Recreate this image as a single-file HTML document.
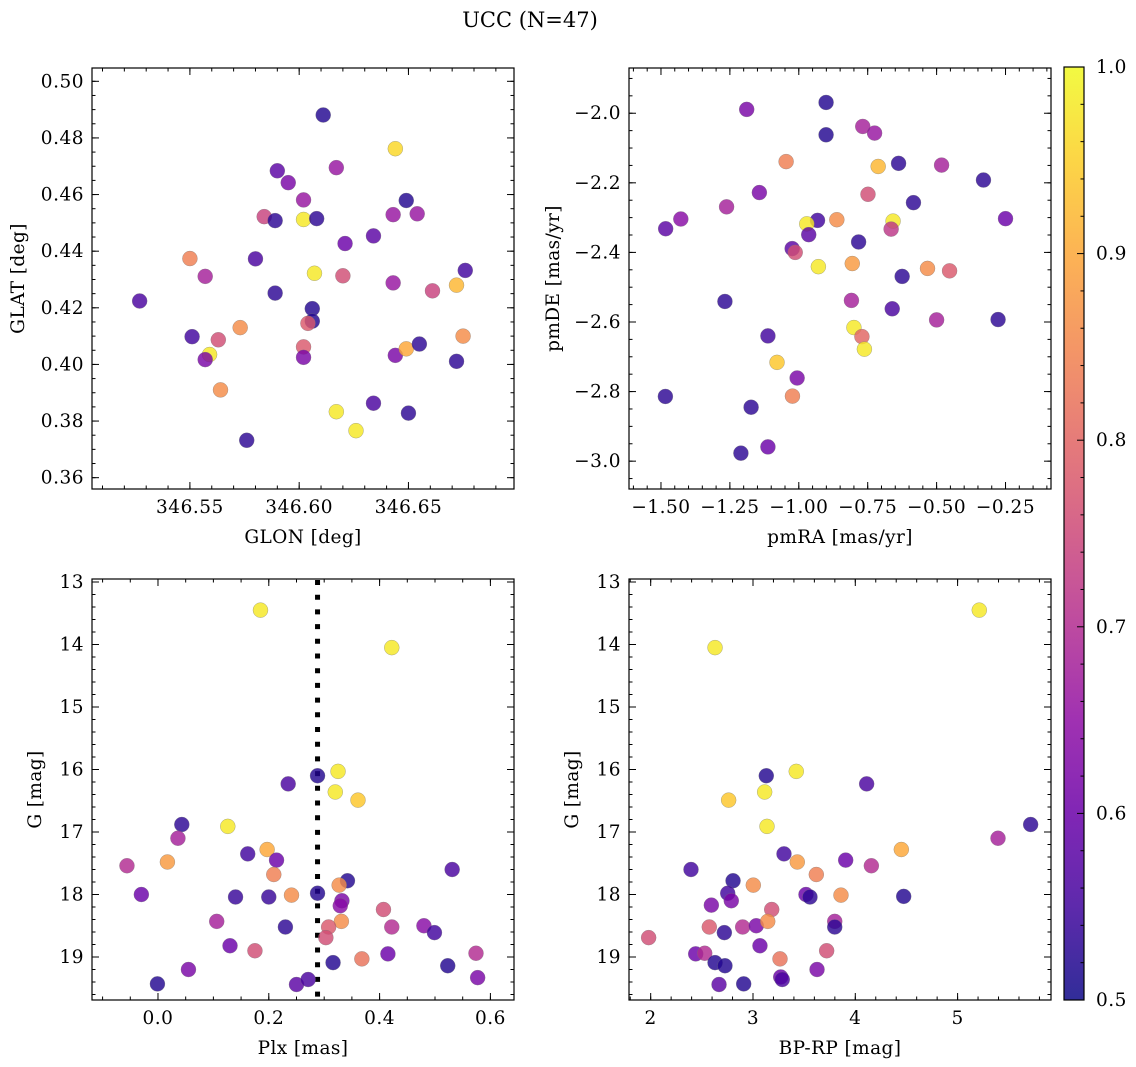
<!DOCTYPE html>
<html><head><meta charset="utf-8">
<style>
html,body{margin:0;padding:0;background:#fff;}
svg{display:block;font-family:"DejaVu Serif","Liberation Serif",serif;}
</style></head>
<body>
<svg id="fig" width="1136" height="1067" viewBox="0 0 1136 1067" xmlns="http://www.w3.org/2000/svg">
<text x="530" y="27" font-size="21" text-anchor="middle">UCC (N=47)</text>
</svg>
<script>
// ---- data: panel 1 (GLON/GLAT)
const glon = [346.611,346.644,346.590,346.617,346.595,346.602,346.649,346.584,346.589,346.602,346.608,346.643,346.654,346.621,346.634,346.550,346.580,346.557,346.607,346.620,346.676,346.527,346.589,346.643,346.661,346.672,346.606,346.606,346.604,346.573,346.551,346.563,346.675,346.602,346.559,346.557,346.602,346.644,346.649,346.655,346.672,346.564,346.617,346.634,346.650,346.576,346.626];
const glat = [0.4881,0.4762,0.4684,0.4695,0.4642,0.4581,0.4579,0.4522,0.4508,0.4512,0.4515,0.4529,0.4532,0.4427,0.4454,0.4374,0.4373,0.4311,0.4322,0.4313,0.4332,0.4224,0.4252,0.4288,0.4260,0.4280,0.4197,0.4153,0.4145,0.4130,0.4098,0.4087,0.4100,0.4062,0.4035,0.4017,0.4025,0.4032,0.4055,0.4072,0.4011,0.3910,0.3833,0.3863,0.3828,0.3732,0.3766];
const prob1 = [0.52,0.96,0.58,0.66,0.62,0.66,0.52,0.74,0.53,0.98,0.53,0.66,0.66,0.60,0.58,0.84,0.56,0.68,0.98,0.76,0.55,0.56,0.53,0.66,0.74,0.92,0.52,0.52,0.78,0.86,0.55,0.76,0.86,0.78,0.98,0.62,0.62,0.62,0.90,0.53,0.53,0.86,0.98,0.56,0.53,0.53,0.98];
// ---- data: panel 2 (pmRA/pmDE)
const pmra = [-0.901,-1.189,-0.901,-0.768,-0.725,-1.046,-0.638,-0.712,-0.482,-1.143,-0.749,-0.330,-0.584,-1.262,-1.428,-1.483,-0.932,-0.862,-0.971,-0.658,-0.665,-0.250,-0.964,-0.783,-1.024,-1.013,-0.929,-0.806,-0.533,-0.453,-0.625,-1.268,-0.809,-0.661,-0.277,-0.500,-0.800,-0.771,-0.762,-1.112,-1.079,-1.006,-1.484,-1.023,-1.173,-1.112,-1.210];
const pmde = [-1.969,-1.989,-2.062,-2.038,-2.057,-2.139,-2.144,-2.153,-2.149,-2.228,-2.233,-2.192,-2.257,-2.269,-2.304,-2.332,-2.308,-2.306,-2.318,-2.310,-2.333,-2.303,-2.349,-2.370,-2.389,-2.400,-2.441,-2.432,-2.446,-2.453,-2.469,-2.541,-2.538,-2.562,-2.593,-2.594,-2.616,-2.642,-2.678,-2.640,-2.716,-2.761,-2.814,-2.813,-2.845,-2.959,-2.977];
const prob2 = [0.52,0.62,0.52,0.68,0.66,0.84,0.53,0.92,0.68,0.62,0.76,0.53,0.53,0.68,0.64,0.58,0.55,0.86,0.98,0.98,0.72,0.60,0.58,0.53,0.58,0.76,0.98,0.88,0.86,0.78,0.53,0.53,0.68,0.56,0.53,0.68,0.98,0.80,0.98,0.55,0.94,0.62,0.53,0.84,0.53,0.60,0.53];
// ---- data: panel 3 (Plx/G)
const plx = [0.185,0.422,0.288,0.325,0.235,0.320,0.361,0.043,0.126,0.036,-0.056,0.017,0.162,0.197,0.214,0.209,-0.030,0.140,0.200,0.241,0.288,0.342,0.327,0.332,0.329,0.531,0.407,0.106,0.230,0.331,0.308,0.422,0.480,0.499,0.303,0.130,0.175,0.415,0.574,0.316,0.368,0.523,0.055,0.577,-0.001,0.250,0.271];
const gmag3 = [13.45,14.05,16.10,16.03,16.23,16.36,16.49,16.88,16.91,17.10,17.54,17.48,17.35,17.28,17.45,17.68,18.00,18.04,18.04,18.01,17.98,17.78,17.85,18.10,18.18,17.60,18.24,18.43,18.52,18.43,18.52,18.52,18.50,18.61,18.69,18.82,18.90,18.95,18.94,19.09,19.03,19.14,19.20,19.33,19.43,19.44,19.36];
const prob3 = [0.98,0.98,0.52,0.98,0.56,0.98,0.94,0.53,0.98,0.68,0.70,0.88,0.55,0.90,0.60,0.84,0.60,0.54,0.54,0.86,0.52,0.52,0.86,0.62,0.64,0.56,0.76,0.68,0.53,0.86,0.78,0.70,0.64,0.55,0.76,0.60,0.76,0.60,0.70,0.52,0.82,0.52,0.62,0.62,0.52,0.58,0.56];
const plxLine = [0.288];
// ---- data: panel 4 (BP-RP/G)
const bprp = [5.212,2.629,3.130,3.423,4.111,3.114,2.762,5.714,3.137,5.395,4.157,3.433,3.303,4.450,3.906,3.619,2.394,2.805,2.753,3.003,2.788,2.593,3.518,3.557,3.860,4.473,3.183,2.573,2.899,3.032,3.144,3.799,3.799,2.720,1.980,3.068,3.720,2.440,2.528,2.629,3.264,2.726,3.626,3.271,3.286,2.668,2.909];
const gmag4 = [13.45,14.05,16.10,16.03,16.23,16.36,16.49,16.88,16.91,17.10,17.54,17.48,17.35,17.28,17.45,17.68,17.60,17.78,17.98,17.85,18.10,18.17,18.00,18.04,18.01,18.03,18.24,18.52,18.52,18.50,18.43,18.43,18.52,18.61,18.69,18.82,18.90,18.95,18.94,19.09,19.03,19.14,19.20,19.32,19.36,19.44,19.43];
const prob4 = [0.98,0.98,0.52,0.98,0.56,0.98,0.94,0.53,0.98,0.68,0.70,0.88,0.55,0.90,0.60,0.84,0.55,0.52,0.55,0.86,0.62,0.62,0.60,0.53,0.86,0.52,0.76,0.78,0.70,0.62,0.86,0.68,0.53,0.53,0.76,0.60,0.76,0.60,0.70,0.52,0.82,0.52,0.62,0.60,0.56,0.58,0.52];
// tick labels
const p1xTicks = [346.55,346.60,346.65];
const p1yTicks = [0.36,0.38,0.40,0.42,0.44,0.46,0.48,0.50];
const p2xTicks = [-1.50,-1.25,-1.00,-0.75,-0.50,-0.25];
const p2yTicks = [-2.0,-2.2,-2.4,-2.6,-2.8,-3.0];
const p3xTicks = [0.0,0.2,0.4,0.6];
const gTicks = [13,14,15,16,17,18,19];
const p4xTicks = [2,3,4,5];
const cbTicks = [0.5,0.6,0.7,0.8,0.9,1.0];

const NS = "http://www.w3.org/2000/svg";
const svg = document.getElementById('fig');
const TFS = 18.5;
const LS = 0.5;
function mk(tag, attrs, parent){ const e=document.createElementNS(NS,tag); for(const k in attrs) e.setAttribute(k,attrs[k]); (parent||svg).appendChild(e); return e; }
const stops = ["#0d0887","#41049d","#6a00a8","#8f0da4","#b12a90","#cc4778","#e16462","#f2844b","#fca636","#fcce25","#f0f921"];
function hx(c){return [parseInt(c.slice(1,3),16),parseInt(c.slice(3,5),16),parseInt(c.slice(5,7),16)];}
function plasma(t){ t=Math.max(0,Math.min(1,t)); const f=t*10, i=Math.min(9,Math.floor(f)), r=f-i; const a=hx(stops[i]), b=hx(stops[i+1]); return 'rgb('+a.map((v,k)=>Math.round(v+(b[k]-v)*r)).join(',')+')'; }
function cmap(p){ return plasma((p-0.5)/0.5); }
function fmt(v,d){ return (v<0?'\u2212':'')+Math.abs(v).toFixed(d); }

function panel(cfg, xs, ys, ps){
  const g = mk('g',{});
  
  
  const sx = v => cfg.L + (v-cfg.x0)/(cfg.x1-cfg.x0)*(cfg.R-cfg.L);
  const sy = v => cfg.T + (v-cfg.y0)/(cfg.y1-cfg.y0)*(cfg.B-cfg.T);
  const tg = mk('g',{stroke:'#000','stroke-width':1},g);
  function xt(v,len){ const x=sx(v); if(x<cfg.L-0.5||x>cfg.R+0.5) return; mk('line',{x1:x,x2:x,y1:cfg.B,y2:cfg.B-len},tg); mk('line',{x1:x,x2:x,y1:cfg.T,y2:cfg.T+len},tg); }
  function yt(v,len){ const y=sy(v); if(y<cfg.T-0.5||y>cfg.B+0.5) return; mk('line',{x1:cfg.L,x2:cfg.L+len,y1:y,y2:y},tg); mk('line',{x1:cfg.R,x2:cfg.R-len,y1:y,y2:y},tg); }
  const xa=Math.min(cfg.x0,cfg.x1), xb=Math.max(cfg.x0,cfg.x1);
  for(let k=Math.ceil(xa/cfg.xminor-1e-9); k*cfg.xminor<=xb+1e-9; k++) xt(k*cfg.xminor,3.5);
  const ya=Math.min(cfg.y0,cfg.y1), yb=Math.max(cfg.y0,cfg.y1);
  for(let k=Math.ceil(ya/cfg.yminor-1e-9); k*cfg.yminor<=yb+1e-9; k++) yt(k*cfg.yminor,3.5);
  cfg.xt.forEach(v=>{ xt(v,7);
    const t=mk('text',{x:sx(v),y:cfg.B+24,'font-size':TFS,'text-anchor':'middle','letter-spacing':LS},g); t.textContent=fmt(v,cfg.xd);
      });
  cfg.yt.forEach(v=>{ yt(v,7);
    const t=mk('text',{x:cfg.L-8,y:sy(v)+6,'font-size':TFS,'text-anchor':'end','letter-spacing':LS},g); t.textContent=fmt(v,cfg.yd);
      });
  if(cfg.vline){ cfg.vline.forEach(v=>{ const l=mk('line',{x1:sx(v),x2:sx(v),y1:cfg.T+1,y2:cfg.B,stroke:'#000','stroke-width':5,'stroke-dasharray':'5,9.7'},g);
      }); }
  xs.forEach((_,i)=>{
    const c=mk('circle',{cx:sx(xs[i]),cy:sy(ys[i]),r:7.5,fill:cmap(ps[i]),'fill-opacity':0.82,stroke:'#777','stroke-opacity':0.6,'stroke-width':0.5},g);
    
    
  });
  mk('rect',{x:cfg.L,y:cfg.T,width:cfg.R-cfg.L,height:cfg.B-cfg.T,fill:'none',stroke:'#000','stroke-width':1.2},g);
  const xl=mk('text',{x:(cfg.L+cfg.R)/2,y:cfg.B+54,'font-size':18.5,'text-anchor':'middle','letter-spacing':0.4},g); xl.textContent=cfg.xlabel;
   
  const yx=cfg.ylx, yy=(cfg.T+cfg.B)/2;
  const yl=mk('text',{x:yx,y:yy,'font-size':18.5,'text-anchor':'middle','letter-spacing':0.4,transform:'rotate(-90 '+yx+' '+yy+')'},g); yl.textContent=cfg.ylabel;
   
}

panel({name:'glon-glat-panel',L:92,R:514,T:68,B:489,x0:346.5052,x1:346.6983,y0:0.5047,y1:0.3560,xminor:0.01,yminor:0.005,xt:p1xTicks,yt:p1yTicks,xd:2,yd:2,xlabel:'GLON [deg]',ylabel:'GLAT [deg]',ylx:24}, glon, glat, prob1);
panel({name:'pm-panel',L:629,R:1051,T:68,B:489,x0:-1.616,x1:-0.085,y0:-1.870,y1:-3.080,xminor:0.05,yminor:0.05,xt:p2xTicks,yt:p2yTicks,xd:2,yd:1,xlabel:'pmRA [mas/yr]',ylabel:'pmDE [mas/yr]',ylx:559}, pmra, pmde, prob2);
panel({name:'plx-g-panel',L:92,R:514,T:579,B:1000,x0:-0.1191,x1:0.6426,y0:12.952,y1:19.688,xminor:0.05,yminor:0.2,xt:p3xTicks,yt:gTicks,xd:1,yd:0,xlabel:'Plx [mas]',ylabel:'G [mag]',ylx:41,vline:plxLine}, plx, gmag3, prob3);
panel({name:'color-mag-panel',L:629,R:1051,T:579,B:1000,x0:1.788,x1:5.913,y0:12.952,y1:19.688,xminor:0.2,yminor:0.2,xt:p4xTicks,yt:gTicks,xd:0,yd:0,xlabel:'BP-RP [mag]',ylabel:'G [mag]',ylx:578}, bprp, gmag4, prob4);

(function(){
  const L=1064,R=1084,T=67,B=1000;
  const cb=mk('g',{});
  
  
  const defs=mk('defs',{},cb);
  const lg=mk('linearGradient',{id:'cbg',x1:0,y1:1,x2:0,y2:0},defs);
  for(let i=0;i<=20;i++){ mk('stop',{offset:i/20,'stop-color':plasma(i/20),'stop-opacity':0.85},lg); }
  mk('rect',{x:L,y:T,width:R-L,height:B-T,fill:'url(#cbg)',stroke:'#000','stroke-width':1.2},cb);
  const sy=v=>B-(v-0.5)/0.5*(B-T);
  for(let k=25;k<=50;k++){ const v=k*0.02; const y=sy(v); const major=Math.abs(v*10-Math.round(v*10))<1e-6;
    mk('line',{x1:R,x2:R-(major?7:3.5),y1:y,y2:y,stroke:'#000','stroke-width':1},cb); }
  cbTicks.forEach(v=>{ const t=mk('text',{x:R+12,y:sy(v)+6,'font-size':TFS,'letter-spacing':LS},cb); t.textContent=v.toFixed(1);
      });
})();
</script>
</body></html>
